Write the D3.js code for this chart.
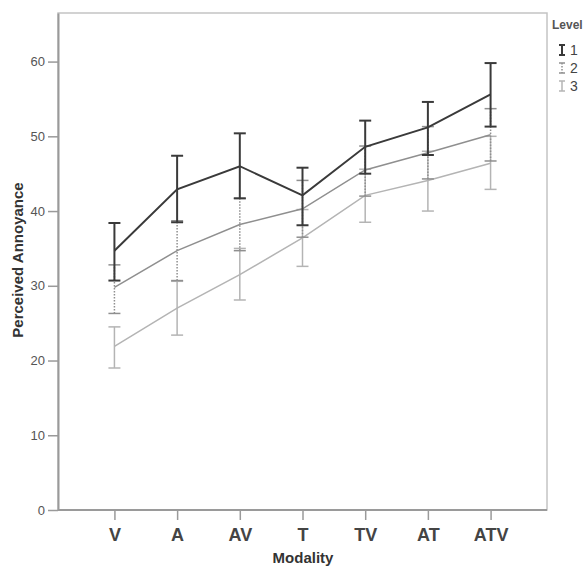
<!DOCTYPE html>
<html>
<head>
<meta charset="utf-8">
<script src="https://cdn.jsdelivr.net/npm/d3@7"></script>
<style>
  html, body { margin: 0; padding: 0; background: #fff; }
  svg { display: block; font-family: "Liberation Sans", Arial, sans-serif; }
</style>
</head>
<body>
<svg id="chart" width="587" height="567"></svg>
<script>
// ---- data ----
const categories = ["V", "A", "AV", "T", "TV", "AT", "ATV"];
const levels = ["1", "2", "3"];

const level1Mean = [34.7, 42.9, 46.0, 42.1, 48.6, 51.2, 55.6];
const level1Low  = [30.7, 38.5, 41.7, 38.1, 45.0, 47.5, 51.3];
const level1High = [38.4, 47.4, 50.4, 45.8, 52.1, 54.6, 59.8];

const level2Mean = [29.8, 34.7, 38.2, 40.3, 45.5, 47.8, 50.2];
const level2Low  = [26.3, 30.7, 34.7, 36.5, 42.0, 44.3, 46.7];
const level2High = [32.8, 38.7, 41.7, 44.1, 48.7, 51.3, 53.7];

const level3Mean = [21.9, 27.0, 31.5, 36.4, 42.1, 44.1, 46.4];
const level3Low  = [19.0, 23.4, 28.1, 32.6, 38.5, 40.0, 42.9];
const level3High = [24.5, 30.6, 35.0, 40.2, 45.6, 48.0, 50.0];

const yTicks = [0, 10, 20, 30, 40, 50, 60];

const series = [
  { name: levels[0], mean: level1Mean, low: level1Low, high: level1High, color: "#3a3a3a", width: 2, dash: null },
  { name: levels[1], mean: level2Mean, low: level2Low, high: level2High, color: "#8f8f8f", width: 1.5, dash: "1.5,1.5" },
  { name: levels[2], mean: level3Mean, low: level3Low, high: level3High, color: "#b4b4b4", width: 1.5, dash: null }
];

// ---- layout ----
const svg = d3.select("#chart");
const pLeft = 58, pRight = 547, pTop = 13, pBottom = 510;

const x = d3.scalePoint().domain(categories).range([pLeft, pRight]).padding(0.9);
const y = d3.scaleLinear().domain([0, 66.5]).range([pBottom, pTop]);

// frame
svg.append("rect")
  .attr("x", pLeft).attr("y", pTop)
  .attr("width", pRight - pLeft).attr("height", pBottom - pTop)
  .attr("fill", "none").attr("stroke", "#c4c4c4").attr("stroke-width", 1.5);

// y axis
const yAxis = svg.append("g")
  .attr("transform", `translate(${pLeft},0)`)
  .call(d3.axisLeft(y).tickValues(yTicks).tickSize(10).tickPadding(3).tickSizeOuter(0));
yAxis.select(".domain").attr("stroke", "#9a9a9a").attr("stroke-width", 2);
yAxis.selectAll(".tick line").attr("stroke", "#9a9a9a").attr("stroke-width", 1.5);
yAxis.selectAll(".tick text").attr("fill", "#555").style("font-size", "13px");

// x axis
const xAxis = svg.append("g")
  .attr("transform", `translate(0,${pBottom})`)
  .call(d3.axisBottom(x).tickSize(10).tickPadding(8).tickSizeOuter(0));
xAxis.select(".domain").attr("stroke", "#9a9a9a").attr("stroke-width", 2)
  .attr("d", `M${pLeft},0H${pRight}`);
xAxis.selectAll(".tick line").attr("stroke", "#9a9a9a").attr("stroke-width", 1.5);
xAxis.selectAll(".tick text").attr("fill", "#444").style("font-size", "18px").style("font-weight", "bold");

// axis titles
svg.append("text")
  .attr("transform", `translate(23,260) rotate(-90)`)
  .attr("text-anchor", "middle")
  .attr("fill", "#333")
  .style("font-size", "15px").style("font-weight", "bold")
  .text("Perceived Annoyance");

svg.append("text")
  .attr("x", 303).attr("y", 563)
  .attr("text-anchor", "middle")
  .attr("fill", "#333")
  .style("font-size", "15px").style("font-weight", "bold")
  .text("Modality");

// series (draw lightest first)
const capW = 6;
const line = d3.line().x((d, i) => x(categories[i])).y(d => y(d));

series.slice().reverse().forEach(s => {
  const g = svg.append("g");
  g.append("path")
    .attr("d", line(s.mean))
    .attr("fill", "none")
    .attr("stroke", s.color)
    .attr("stroke-width", s.width);
  categories.forEach((c, i) => {
    const cx = x(c);
    g.append("line")
      .attr("x1", cx).attr("x2", cx)
      .attr("y1", y(s.low[i])).attr("y2", y(s.high[i]))
      .attr("stroke", s.color).attr("stroke-width", s.width)
      .attr("stroke-dasharray", s.dash);
    [s.low[i], s.high[i]].forEach(v => {
      g.append("line")
        .attr("x1", cx - capW).attr("x2", cx + capW)
        .attr("y1", y(v)).attr("y2", y(v))
        .attr("stroke", s.color).attr("stroke-width", s.width);
    });
  });
});

// legend
svg.append("text")
  .attr("x", 552).attr("y", 29)
  .attr("fill", "#555")
  .style("font-size", "12px").style("font-weight", "bold")
  .text("Level");

series.forEach((s, i) => {
  const cy = 50 + i * 18;
  const gx = 562;
  const lg = svg.append("g");
  lg.append("line").attr("x1", gx).attr("x2", gx).attr("y1", cy - 5).attr("y2", cy + 5)
    .attr("stroke", s.color).attr("stroke-width", s.width).attr("stroke-dasharray", s.dash);
  [cy - 5, cy + 5].forEach(v => {
    lg.append("line").attr("x1", gx - 3).attr("x2", gx + 3).attr("y1", v).attr("y2", v)
      .attr("stroke", s.color).attr("stroke-width", s.width);
  });
  lg.append("text").attr("x", 570).attr("y", cy + 5)
    .attr("fill", "#444").style("font-size", "14px")
    .text(s.name);
});
</script>
</body>
</html>
